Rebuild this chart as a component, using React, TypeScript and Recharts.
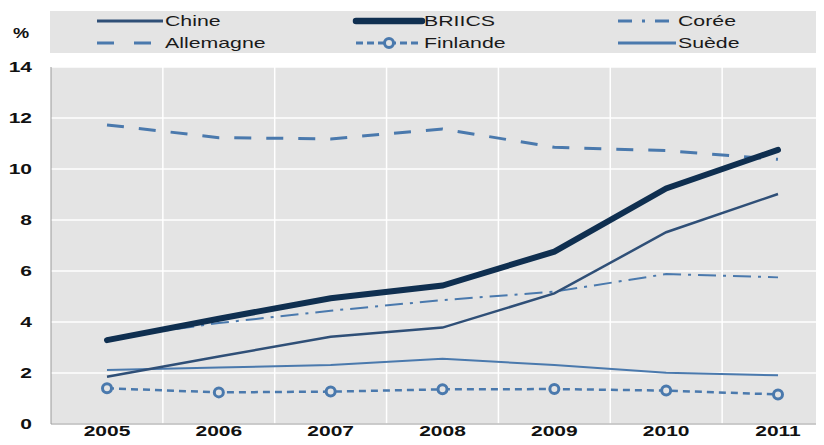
import { LineChart, Line, XAxis, YAxis, CartesianGrid } from "recharts";

const years = ["2005", "2006", "2007", "2008", "2009", "2010", "2011"];
const chine = [1.85, 2.65, 3.42, 3.78, 5.12, 7.52, 9.02];
const briics = [3.29, 4.13, 4.93, 5.43, 6.76, 9.24, 10.75];
const coree = [3.35, 3.96, 4.44, 4.86, 5.19, 5.88, 5.75];
const allemagne = [11.73, 11.23, 11.18, 11.57, 10.85, 10.72, 10.38];
const finlande = [1.4, 1.24, 1.27, 1.36, 1.37, 1.31, 1.16];
const suede = [2.12, 2.22, 2.31, 2.56, 2.31, 2.01, 1.91];
const yTicks = [0, 2, 4, 6, 8, 10, 12, 14];

const data = years.map((year, i) => ({
  year,
  chine: chine[i],
  briics: briics[i],
  coree: coree[i],
  allemagne: allemagne[i],
  finlande: finlande[i],
  suede: suede[i],
}));

const BG = "#e4e4e4";
const LIGHT = "#4a79ad";

const series = [
  { key: "chine", name: "Chine", color: "#2f4f77", width: 2.5, dash: undefined, legendDash: undefined, col: 0, row: 0 },
  { key: "briics", name: "BRIICS", color: "#0f2f50", width: 6, dash: undefined, legendDash: undefined, col: 1, row: 0 },
  { key: "coree", name: "Corée", color: LIGHT, width: 2, dash: "18 7 3 7", legendDash: "14 10 3 10", col: 2, row: 0 },
  { key: "allemagne", name: "Allemagne", color: LIGHT, width: 3, dash: "17 15", legendDash: "17 20", col: 0, row: 1 },
  { key: "finlande", name: "Finlande", color: LIGHT, width: 2.5, dash: "7 5", legendDash: "7 4", col: 1, row: 1 },
  { key: "suede", name: "Suède", color: LIGHT, width: 2, dash: undefined, legendDash: undefined, col: 2, row: 1 },
];

// draw order: light lines below, BRIICS on top
const drawOrder = ["allemagne", "coree", "suede", "finlande", "chine", "briics"];

const colX = [97, 356, 618];
const colLen = [66, 66, 58];
const rowY = [21, 43];

const font = "'Liberation Sans', Arial, sans-serif";

function XTick({ x, y, payload }: any) {
  return (
    <text
      x={x}
      y={y + 12}
      textAnchor="middle"
      fontFamily={font}
      fontWeight="bold"
      fontSize={14}
      fill="#111"
      transform={`translate(${x},0) scale(1.5,1) translate(${-x},0)`}
    >
      {payload.value}
    </text>
  );
}

function YTick({ x, y, payload }: any) {
  return (
    <text
      x={x}
      y={y + 5}
      textAnchor="end"
      fontFamily={font}
      fontWeight="bold"
      fontSize={14}
      fill="#111"
      transform={`translate(${x},0) scale(1.5,1) translate(${-x},0)`}
    >
      {payload.value}
    </text>
  );
}

function LegendBox() {
  return (
    <svg width={824} height={60} style={{ position: "absolute", left: 0, top: 0 }}>
      <rect x={50} y={11} width={774} height={42} fill={BG} />
      <text
        x={13}
        y={38}
        fontFamily={font}
        fontWeight="bold"
        fontSize={14}
        fill="#111"
        transform="translate(13,0) scale(1.3,1) translate(-13,0)"
      >
        %
      </text>
      {series.map((s) => {
        const x0 = colX[s.col];
        const x1 = x0 + colLen[s.col];
        const y = rowY[s.row];
        const tx = x1 + 2;
        return (
          <g key={s.key}>
            <line
              x1={x0}
              x2={x1}
              y1={y}
              y2={y}
              stroke={s.color}
              strokeWidth={s.key === "briics" ? 6.5 : 3}
              strokeDasharray={s.legendDash}
              strokeLinecap={s.key === "briics" ? "round" : "butt"}
            />
            {s.key === "finlande" && (
              <circle cx={(x0 + x1) / 2} cy={y} r={4.5} fill={BG} stroke={s.color} strokeWidth={3} />
            )}
            <text
              x={tx}
              y={y + 5.5}
              fontFamily={font}
              fontSize={15}
              fill="#1a1a1a"
              transform={`translate(${tx},0) scale(1.42,1) translate(${-tx},0)`}
            >
              {s.name}
            </text>
          </g>
        );
      })}
    </svg>
  );
}

export default function App() {
  return (
    <div
      style={{
        position: "relative",
        width: 824,
        height: 445,
        margin: -8,
        overflow: "hidden",
        background: "#fff",
      }}
    >
      <LineChart
        width={860}
        height={445}
        data={data}
        margin={{ top: 67, right: 26, bottom: 0, left: 0 }}
      >
        <CartesianGrid
          fill={BG}
          stroke="#ffffff"
          strokeWidth={1.5}
          verticalCoordinatesGenerator={({ offset }: any) =>
            years.slice(1).map((_, i) => offset.left + ((i + 1) * offset.width) / years.length)
          }
        />
        <XAxis
          dataKey="year"
          height={21}
          padding={{ left: 56, right: 56 }}
          tickLine={false}
          tickSize={0}
          tickMargin={0}
          axisLine={{ stroke: "#9a9a9a" }}
          tick={<XTick />}
          interval={0}
        />
        <YAxis
          width={51}
          domain={[0, 14]}
          ticks={yTicks}
          tickLine={false}
          tickSize={0}
          tickMargin={19}
          axisLine={{ stroke: "#9a9a9a" }}
          tick={<YTick />}
          interval={0}
        />
        {drawOrder.map((k) => {
          const s = series.find((d) => d.key === k)!;
          return (
            <Line
              key={s.key}
              type="linear"
              dataKey={s.key}
              name={s.name}
              stroke={s.color}
              strokeWidth={s.width}
              strokeDasharray={s.dash}
              strokeLinecap={s.key === "briics" ? "round" : "butt"}
              dot={
                s.key === "finlande"
                  ? { r: 4.5, fill: BG, stroke: s.color, strokeWidth: 3, strokeDasharray: "0" }
                  : false
              }
              activeDot={false}
              isAnimationActive={false}
            />
          );
        })}
      </LineChart>
      <LegendBox />
    </div>
  );
}
